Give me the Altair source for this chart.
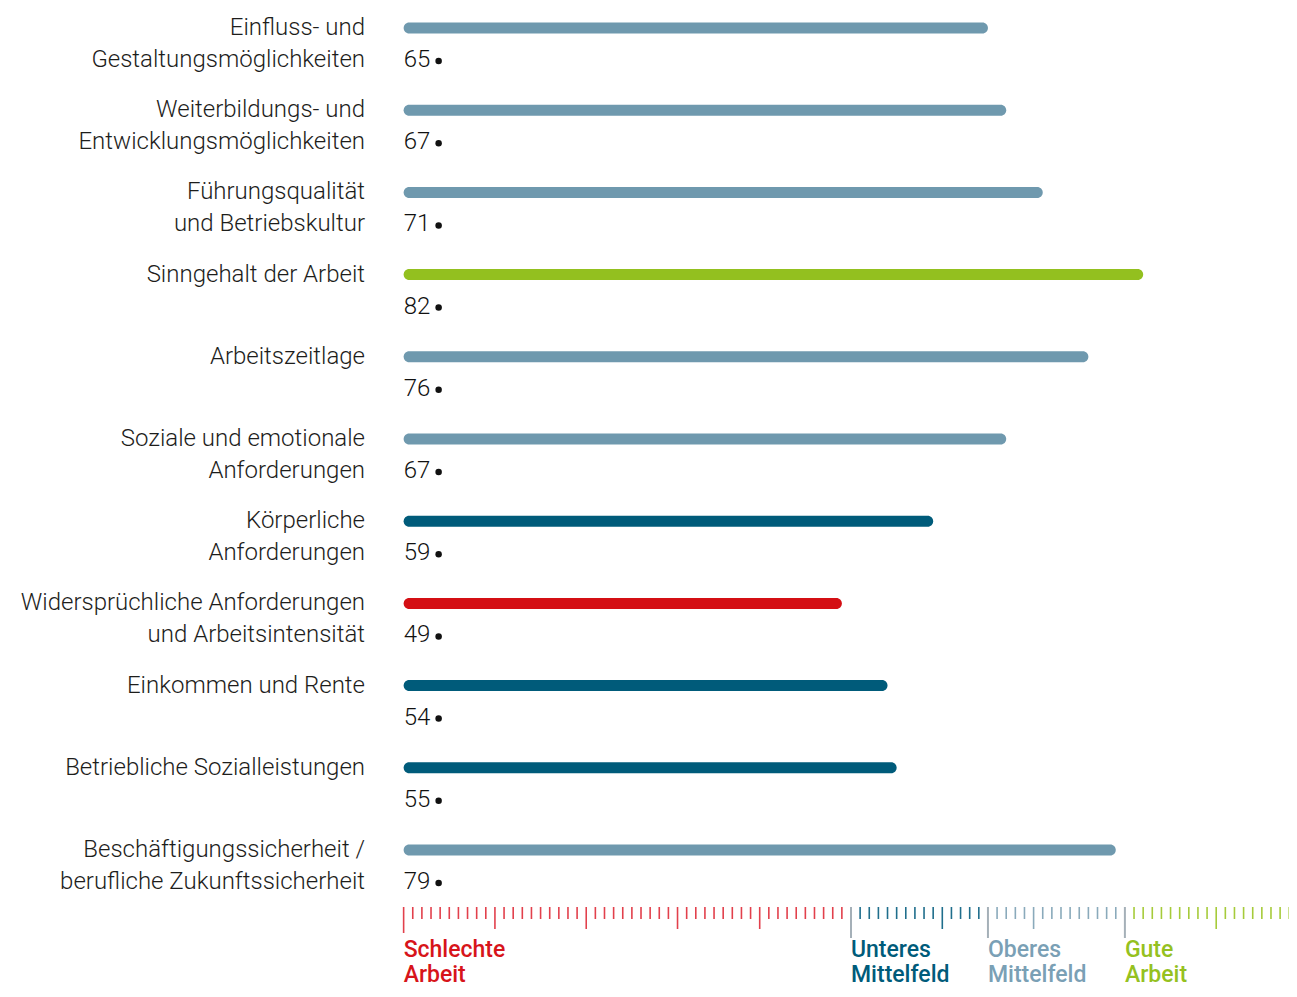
import altair as alt
import pandas as pd

# ---------------- data ----------------
categories = [
    "Einfluss- und\nGestaltungsmöglichkeiten",
    "Weiterbildungs- und\nEntwicklungsmöglichkeiten",
    "Führungsqualität\nund Betriebskultur",
    "Sinngehalt der Arbeit",
    "Arbeitszeitlage",
    "Soziale und emotionale\nAnforderungen",
    "Körperliche\nAnforderungen",
    "Widersprüchliche Anforderungen\nund Arbeitsintensität",
    "Einkommen und Rente",
    "Betriebliche Sozialleistungen",
    "Beschäftigungssicherheit /\nberufliche Zukunftssicherheit",
]
values = [65, 67, 71, 82, 76, 67, 59, 49, 54, 55, 79]

band_labels = ["Schlechte\nArbeit", "Unteres\nMittelfeld", "Oberes\nMittelfeld", "Gute\nArbeit"]
band_starts = [1, 50, 65, 80]          # index points where each band begins
bar_colors = ["#d40f14", "#005b7a", "#6f99ae", "#93c01f"]
tick_colors = ["#e2404c", "#1f6e8c", "#8aaabb", "#a6cb3a"]
text_colors = ["#d7141a", "#005b7a", "#7aa0b5", "#95c11f"]
bound_color = "#a5b0b8"

ruler_values = list(range(1, 99))
ruler_long = [11, 21, 31, 40, 60, 70, 90]
ruler_first = [1]
ruler_bounds = [50, 65, 80]


def band_index(v):
    idx = 0
    for i, s in enumerate(band_starts):
        if v >= s:
            idx = i
    return idx


bars = pd.DataFrame({
    "cat": categories,
    "value": values,
    "start": [band_starts[0]] * len(values),
    "vlabel": [str(v) for v in values],
    "color": [bar_colors[band_index(v)] for v in values],
})

ruler = pd.DataFrame({"v": ruler_values})
ruler["color"] = [
    bound_color if v in ruler_bounds else tick_colors[band_index(v)]
    for v in ruler_values
]
ruler["kind"] = [
    "bound" if v in ruler_bounds else
    "first" if v in ruler_first else
    "long" if v in ruler_long else "small"
    for v in ruler_values
]

legend = pd.DataFrame({
    "label": band_labels,
    "start": band_starts,
    "color": text_colors,
})

# ---------------- scales ----------------
W, H = 1281, 981
px_per_unit = 9.13
zero_px = 386.5
xs = alt.Scale(domain=[-zero_px / px_per_unit, (W - zero_px) / px_per_unit],
               range=[0, W], nice=False, zero=False)
ys = alt.Scale(type="point", domain=categories, range=[20, 842], padding=0)

FONT = "Roboto"

bar_layer = alt.Chart(bars).mark_bar(height=11, cornerRadius=5.5).encode(
    x=alt.X("start:Q", scale=xs, axis=None),
    x2="value:Q",
    y=alt.Y("cat:N", scale=ys, sort=categories, axis=None),
    color=alt.Color("color:N", scale=None, legend=None),
)

label_layer = alt.Chart(bars).mark_text(
    align="right", baseline="middle", font=FONT, fontSize=24, fontWeight=300,
    lineBreak="\n", lineHeight=32, color="#1d1d1b",
).encode(
    x=alt.value(357),
    y=alt.Y("cat:N", scale=ys, sort=categories, axis=None),
    text="cat:N",
)

value_layer = alt.Chart(bars).mark_text(
    align="left", baseline="middle", font=FONT, fontSize=24, fontWeight=300,
    dy=32, color="#111111",
).encode(
    x=alt.X("start:Q", scale=xs, axis=None),
    y=alt.Y("cat:N", scale=ys, sort=categories, axis=None),
    text="vlabel:N",
)

bullet_layer = alt.Chart(bars).mark_circle(
    size=42, opacity=1, color="#111111", xOffset=35, yOffset=33,
).encode(
    x=alt.X("start:Q", scale=xs, axis=None),
    y=alt.Y("cat:N", scale=ys, sort=categories, axis=None),
)

RT = 899
tick_specs = {"small": 911, "long": 921, "first": 925, "bound": 930}
tick_layers = []
for kind, bottom in tick_specs.items():
    tick_layers.append(
        alt.Chart(ruler).transform_filter(alt.datum.kind == kind).mark_rule(
            strokeWidth=1.6 if kind != "bound" else 2
        ).encode(
            x=alt.X("v:Q", scale=xs, axis=None),
            y=alt.value(RT),
            y2=alt.value(bottom),
            color=alt.Color("color:N", scale=None, legend=None),
        )
    )

legend_layer = alt.Chart(legend).mark_text(
    align="left", baseline="middle", font=FONT, fontSize=23, fontWeight=500,
    lineBreak="\n", lineHeight=25,
).encode(
    x=alt.X("start:Q", scale=xs, axis=None),
    y=alt.value(942),
    text="label:N",
    color=alt.Color("color:N", scale=None, legend=None),
)

chart = alt.layer(
    bar_layer, label_layer, value_layer, bullet_layer, *tick_layers, legend_layer
).properties(
    width=W, height=H,
    autosize=alt.AutoSizeParams(type="none"),
    padding=0,
).configure_view(stroke=None)

chart.save("out.html", embed_options={"renderer": "svg", "actions": False})
